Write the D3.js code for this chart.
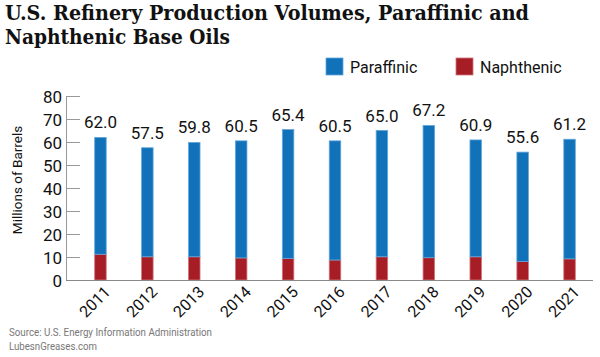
<!DOCTYPE html>
<html>
<head>
<meta charset="utf-8">
<script src="https://cdn.jsdelivr.net/npm/d3@7"></script>
<style>
  html, body { margin: 0; padding: 0; background: #fff; }
  svg { display: block; }
</style>
</head>
<body>
<svg id="chart" width="600" height="357"></svg>
<script>
const years = ["2011","2012","2013","2014","2015","2016","2017","2018","2019","2020","2021"];
const naphthenic = [11.2, 10.1, 10.1, 9.6, 9.4, 8.7, 10.1, 9.7, 10.1, 8.0, 9.2];
const paraffinic = [50.8, 47.4, 49.7, 50.9, 56.0, 51.8, 54.9, 57.5, 50.8, 47.6, 52.0];
const totalLabels = ["62.0","57.5","59.8","60.5","65.4","60.5","65.0","67.2","60.9","55.6","61.2"];
const yTicks = [0,10,20,30,40,50,60,70,80];
const seriesNames = ["Paraffinic","Naphthenic"];
const colors = {Paraffinic: "#1172BA", Naphthenic: "#A61D25"};
const strokes = {Paraffinic: "#62A6DC", Naphthenic: "#D0767C"};

const svg = d3.select("#chart");
const FONT = "Roboto, 'Liberation Sans', sans-serif";

// Title
const title = svg.append("g").attr("font-family", "'DejaVu Serif', serif").attr("font-weight", "bold").attr("fill", "#111");
title.append("text").attr("x", 5).attr("y", 20).attr("font-size", 20)
  .attr("textLength", 524).attr("lengthAdjust", "spacingAndGlyphs")
  .text("U.S. Refinery Production Volumes, Paraffinic and");
title.append("text").attr("x", 5).attr("y", 44).attr("font-size", 20)
  .attr("textLength", 225).attr("lengthAdjust", "spacingAndGlyphs")
  .text("Naphthenic Base Oils");

// Scales
const x = d3.scaleBand().domain(years).range([77, 593]);
const y = d3.scaleLinear().domain([0, 80]).range([280, 96]);
const barW = 11.5;

// Stack
const rows = years.map((yr, i) => ({year: yr, Paraffinic: paraffinic[i], Naphthenic: naphthenic[i]}));
const stack = d3.stack().keys(["Naphthenic","Paraffinic"])(rows);

const barsG = svg.append("g");
stack.forEach(layer => {
  barsG.append("g").selectAll("rect").data(layer).join("rect")
    .attr("x", d => x(d.data.year) + x.bandwidth()/2 - barW/2)
    .attr("width", barW)
    .attr("y", d => y(d[1]))
    .attr("height", d => y(d[0]) - y(d[1]))
    .attr("fill", colors[layer.key])
    .attr("stroke", strokes[layer.key])
    .attr("stroke-width", 0.8);
});

// Y axis
const yAxis = d3.axisLeft(y).tickValues(yTicks).tickSize(0).tickPadding(4);
const yg = svg.append("g").attr("transform", "translate(66,0)").call(yAxis);
yg.select(".domain").attr("stroke", "#999").attr("stroke-width", 1);
yg.selectAll(".tick text").attr("font-family", FONT).attr("font-size", 17).attr("fill", "#111").attr("dy", "0.36em");
yg.selectAll(".tick").append("line").attr("x1", 0).attr("x2", 14).attr("stroke", "#999").attr("stroke-width", 1);

// X axis baseline
const xAxis = d3.axisBottom(x).tickSize(0).tickPadding(0);
const xg = svg.append("g").attr("transform", "translate(0,280)").call(xAxis);
xg.select(".domain").attr("d", "M66,0.5H593").attr("stroke", "#888").attr("stroke-width", 1.2);
xg.selectAll(".tick text")
  .attr("font-family", FONT).attr("font-size", 16).attr("fill", "#111")
  .attr("text-anchor", "end")
  .attr("transform", "translate(7,9) rotate(-45)")
  .attr("dy", "0.35em").attr("y", 0);

// Value labels
svg.append("g").selectAll("text").data(rows).join("text")
  .attr("x", d => x(d.year) + x.bandwidth()/2)
  .attr("y", d => y(d.Paraffinic + d.Naphthenic) - 9)
  .attr("text-anchor", "middle")
  .attr("font-family", FONT).attr("font-size", 17).attr("fill", "#111")
  .text((d, i) => totalLabels[i]);

// Y axis title
svg.append("text")
  .attr("transform", "translate(22,180) rotate(-90)")
  .attr("text-anchor", "middle")
  .attr("font-family", FONT).attr("font-size", 13.5).attr("fill", "#111")
  .text("Millions of Barrels");

// Legend
const legendX = [326, 456];
const lg = svg.append("g");
seriesNames.forEach((name, i) => {
  lg.append("rect").attr("x", legendX[i]).attr("y", 58).attr("width", 17).attr("height", 17)
    .attr("fill", colors[name]).attr("stroke", strokes[name]).attr("stroke-width", 0.8);
  lg.append("text").attr("x", legendX[i] + 24).attr("y", 73)
    .attr("font-family", FONT).attr("font-size", 16).attr("fill", "#111").text(name);
});

// Source
const src = svg.append("g").attr("font-family", FONT).attr("font-size", 11.5).attr("fill", "#777");
src.append("text").attr("x", 9).attr("y", 336).attr("textLength", 203).attr("lengthAdjust", "spacingAndGlyphs")
  .text("Source: U.S. Energy Information Administration");
src.append("text").attr("x", 9).attr("y", 350).attr("textLength", 88).attr("lengthAdjust", "spacingAndGlyphs")
  .text("LubesnGreases.com");
</script>
</body>
</html>
